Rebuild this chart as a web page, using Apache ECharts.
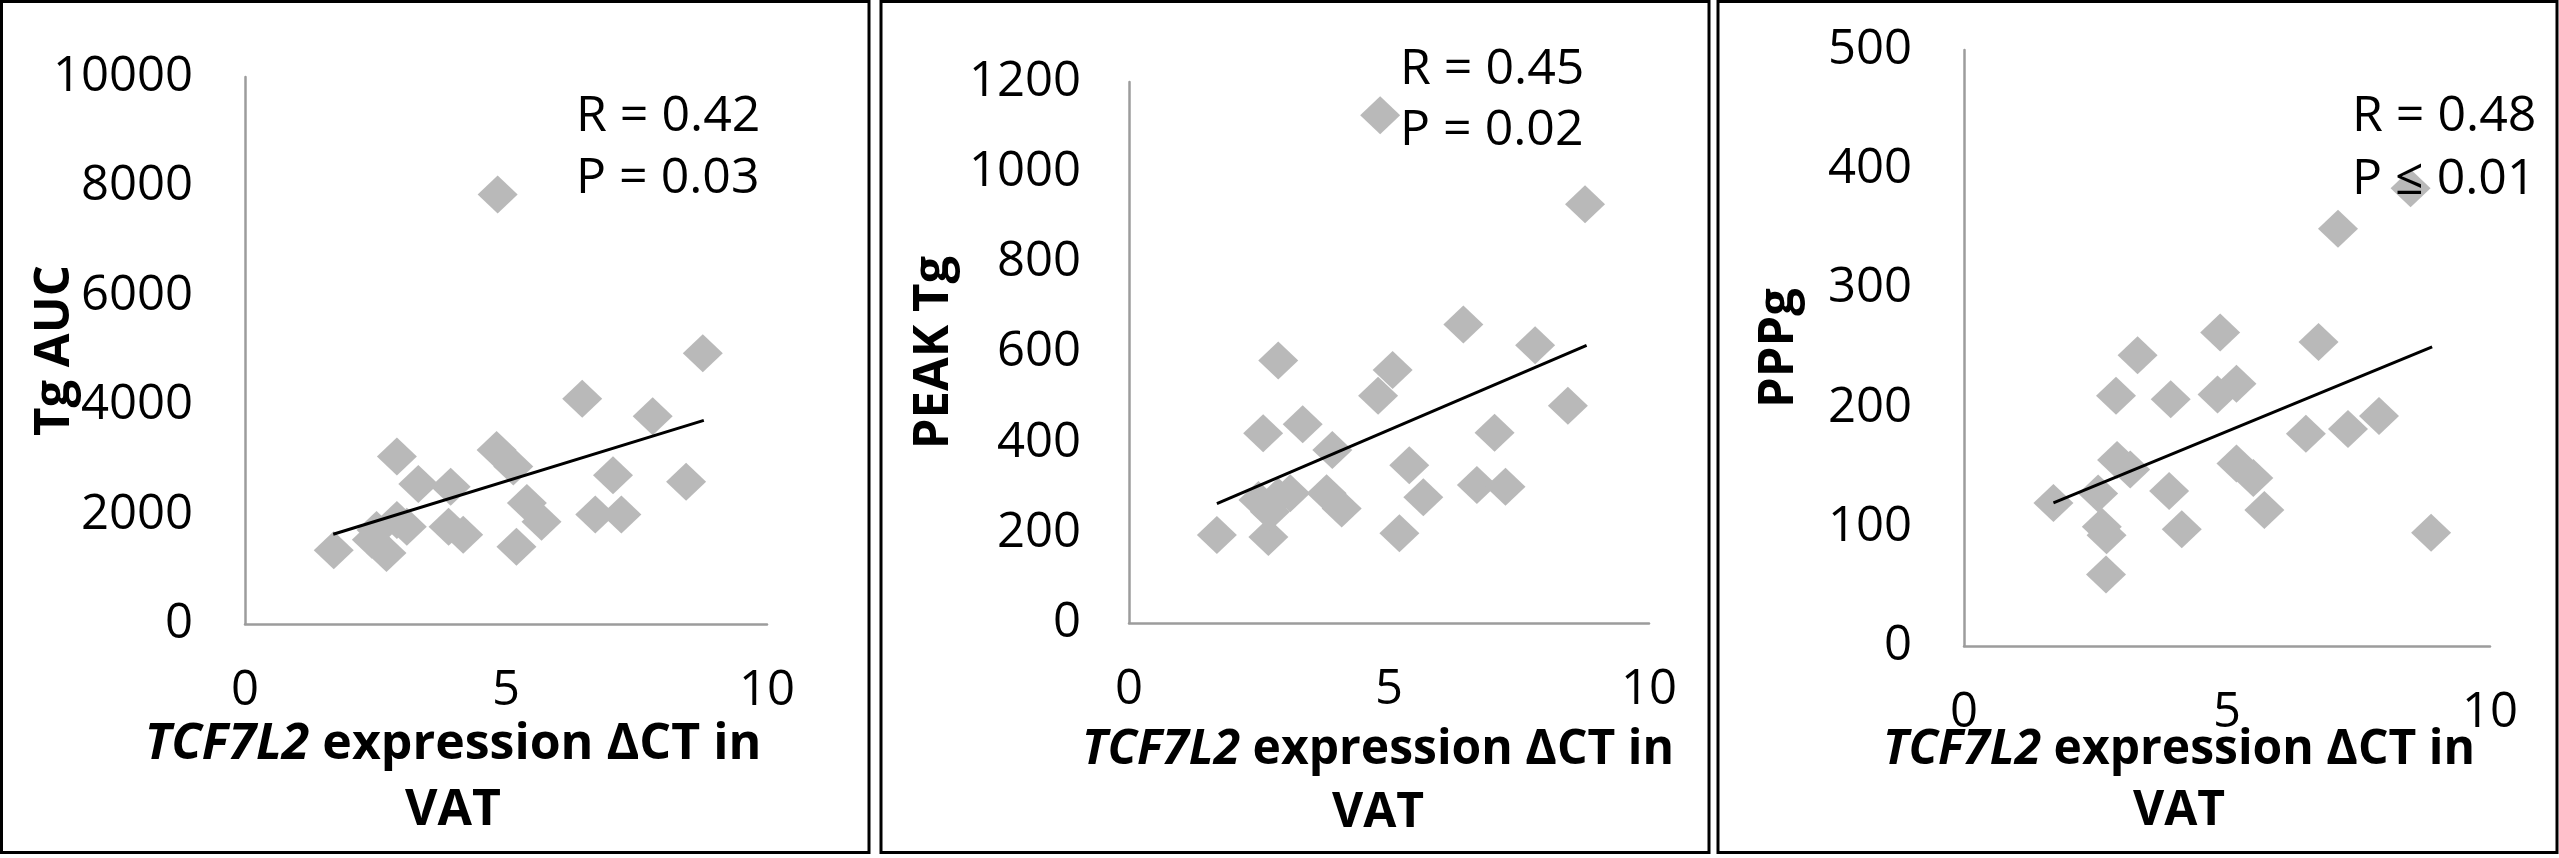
<!DOCTYPE html>
<html>
<head>
<meta charset="utf-8">
<title>TCF7L2 expression in VAT</title>
<script src="https://cdn.jsdelivr.net/npm/echarts@6/dist/echarts.min.js"></script>
<style>
html,body{margin:0;padding:0;background:#fff;}
#main{width:2559px;height:858px;}
</style>
</head>
<body>
<div id="main"></div>
<script>
// panel 1: Tg AUC
let aucX = [1.70, 2.91, 3.32, 3.94, 4.82, 5.14, 5.40, 5.68, 5.20, 3.90, 4.18, 2.52, 2.91, 3.10, 2.71, 2.43, 4.84, 8.77, 6.46, 7.81, 7.05, 8.45, 6.71, 7.21];
let aucY = [1350, 3060, 2560, 2510, 3180, 2880, 2210, 1870, 1410, 1780, 1630, 1720, 1900, 1780, 1300, 1540, 7850, 4950, 4120, 3800, 2720, 2600, 2000, 2000];
let aucTrendX = [1.69, 8.79];
let aucTrendY = [1640, 3722];
// panel 2: PEAK Tg
let peakX = [1.69, 2.68, 2.58, 3.34, 3.91, 5.39, 5.66, 5.20, 3.80, 4.09, 2.49, 2.71, 2.87, 3.10, 4.83, 8.77, 6.43, 7.81, 2.87, 5.07, 4.79, 8.44, 7.03, 6.69, 7.24];
let peakY = [195, 191, 421, 441, 384, 350, 279, 199, 288, 254, 273, 247, 280, 288, 1126, 929, 662, 616, 582, 561, 504, 482, 422, 306, 302];
let peakTrendX = [1.69, 8.80];
let peakTrendY = [265, 616];
// panel 3: PPPg
let pppX = [1.70, 2.91, 3.16, 2.55, 2.62, 2.71, 2.70, 3.90, 4.14, 5.18, 5.50, 5.71, 8.49, 7.11, 4.87, 6.74, 3.30, 2.89, 3.93, 4.82, 5.18, 7.89, 7.30, 6.50, 8.88];
let pppY = [120, 156, 148, 128, 100, 93, 60, 130, 98, 153, 141, 114, 384, 350, 263, 255, 244, 210, 207, 211, 220, 193, 182, 178, 95];
let pppTrendX = [1.70, 8.90];
let pppTrendY = [120, 251];
// axes
let xTicks = {min: 0, max: 10, interval: 5};
let yTicks = [
    {min: 0, max: 10000, interval: 2000},
    {min: 0, max: 1200, interval: 200},
    {min: 0, max: 500, interval: 100}
];
let yNames = ['Tg AUC', 'PEAK Tg', 'PPPg'];
let statR = ['R = 0.42', 'R = 0.45', 'R = 0.48'];
let statP = ['P = 0.03', 'P = 0.02', 'P \u2264 0.01'];

const FONT = '"Open Sans", "Liberation Sans", sans-serif';
const MARK = '#b9b9b9';
const AXIS = '#9c9c9c';

function zip(xs, ys){
    return xs.map((x, i) => [x, ys[i]]);
}

// layout of each panel, px
let lay = [
    {grid: [245, 77, 522, 547], yGap: 165, yMargin: 52, xGap: 88, shift: 53, fs: 50, lh: 66, box: [1.5, 869], rp: [576, 117, 179]},
    {grid: [1129, 82, 520, 541], yGap: 170, yMargin: 48, xGap: 96, shift: 11, fs: 48, lh: 63, box: [881, 1709], rp: [1400, 70, 131]},
    {grid: [1964, 50, 526, 596], yGap: 160, yMargin: 52, xGap: 74, shift: 48, fs: 48, lh: 61, box: [1718, 2557], rp: [2352, 117, 180]}
];
let scatter = [zip(aucX, aucY), zip(peakX, peakY), zip(pppX, pppY)];
let trend = [zip(aucTrendX, aucTrendY), zip(peakTrendX, peakTrendY), zip(pppTrendX, pppTrendY)];

let option = {
    animation: false,
    backgroundColor: '#fff',
    grid: [], xAxis: [], yAxis: [], series: [], graphic: []
};

lay.forEach(function(l, i){
    option.grid.push({left: l.grid[0], top: l.grid[1], width: l.grid[2], height: l.grid[3]});
    let txt = {fontFamily: FONT, fontWeight: 'bold', fontSize: l.fs, lineHeight: l.lh, color: '#000'};
    option.xAxis.push(Object.assign({
        type: 'value', gridIndex: i,
        name: '{i|TCF7L2}{b| expression \u0394CT in}\n{b|VAT}',
        nameLocation: 'middle', nameGap: l.xGap, nameMoveOverlap: false,
        nameTextStyle: {
            padding: [0, l.shift * 2, 0, 0],
            rich: {i: Object.assign({fontStyle: 'italic'}, txt), b: txt}
        },
        axisLine: {show: true, onZero: false, lineStyle: {color: AXIS, width: 2.5}},
        axisTick: {show: false},
        splitLine: {show: false},
        axisLabel: {fontFamily: FONT, fontSize: 49, color: '#000', margin: 43}
    }, xTicks));
    option.yAxis.push(Object.assign({
        type: 'value', gridIndex: i,
        name: yNames[i], nameLocation: 'middle', nameGap: l.yGap, nameRotate: 90,
        nameMoveOverlap: false,
        nameTextStyle: {fontFamily: FONT, fontWeight: 'bold', fontSize: 49, color: '#000'},
        axisLine: {show: true, lineStyle: {color: AXIS, width: 2.5}},
        axisTick: {show: false},
        splitLine: {show: false},
        axisLabel: {fontFamily: FONT, fontSize: 49, color: '#000', margin: l.yMargin, formatter: v => String(v)}
    }, yTicks[i]));
    option.series.push({
        type: 'scatter', xAxisIndex: i, yAxisIndex: i,
        symbol: 'diamond', symbolSize: [40, 38],
        itemStyle: {color: MARK, opacity: 1},
        data: scatter[i]
    });
    option.series.push({
        type: 'line', xAxisIndex: i, yAxisIndex: i,
        showSymbol: false, symbol: 'none',
        lineStyle: {color: '#000', width: 3},
        data: trend[i]
    });
    // panel frame
    option.graphic.push({
        type: 'rect', silent: true, z: 100,
        shape: {x: l.box[0], y: 1.5, width: l.box[1] - l.box[0], height: 851},
        style: {fill: null, stroke: '#000', lineWidth: 3}
    });
    // R / P text, drawn above the marks
    [statR[i], statP[i]].forEach(function(t, k){
        option.graphic.push({
            type: 'text', silent: true, z: 100, x: l.rp[0], y: l.rp[1 + k],
            style: {text: t, fontFamily: FONT, fontSize: 50, fill: '#000', align: 'left', verticalAlign: 'middle'}
        });
    });
});

let chart = echarts.init(document.getElementById('main'));
chart.setOption(option);
window.addEventListener('resize', () => chart.resize());
</script>
</body>
</html>
